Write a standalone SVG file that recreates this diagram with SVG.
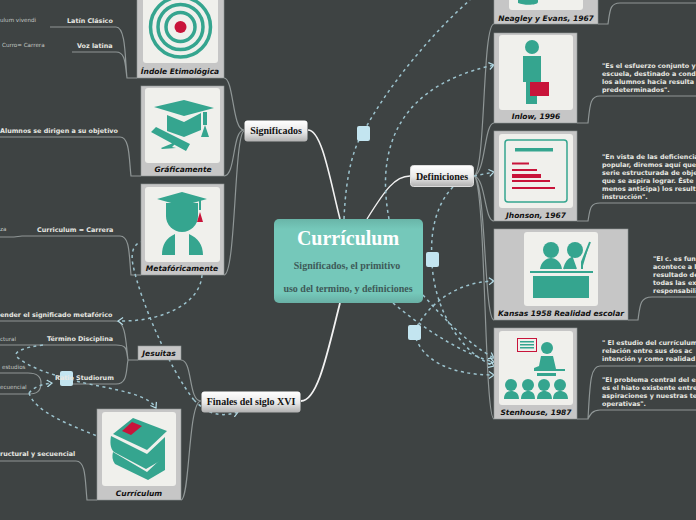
<svg xmlns="http://www.w3.org/2000/svg" width="696" height="520" viewBox="0 0 696 520">
<style>
.g{fill:none;stroke:#8f9696;stroke-width:1.2}
.w{fill:none;stroke:#f2f2f2}
.d{fill:none;stroke:#9cc3ce;stroke-width:1.5;stroke-dasharray:3 3.500;marker-end:url(#a)}
.n{fill:none;stroke:#9cc3ce;stroke-width:1.5;stroke-dasharray:3 3.500}
.t{font:bold 6.400px "DejaVu Sans",sans-serif;fill:#e8e8e2}
.s{font:5.600px "DejaVu Sans",sans-serif;fill:#c4c8c4}
.c{font:italic bold 7.500px "DejaVu Sans",sans-serif;fill:#111;text-anchor:middle}
.m{font:bold 10px "Liberation Serif",serif;fill:#111;text-anchor:middle}
.card{fill:#c6c6c6;stroke:#8f9696;stroke-width:.6}
.in{fill:#f0f0ec}
.e{fill:#35a58f}
.r{fill:#c8143a}
.b{fill:#c3e5f0}
</style>
<defs>
<marker id="a" markerWidth="8" markerHeight="8" refX="6" refY="4" orient="auto" markerUnits="userSpaceOnUse"><path d="M1 .5L6 4L1 7.500" fill="none" stroke="#b5dde8" stroke-width="1.200"/></marker>
<linearGradient id="bt" x1="0" y1="0" x2="0" y2="1"><stop offset="0" stop-color="#fff"/><stop offset=".55" stop-color="#e8e8e8"/><stop offset="1" stop-color="#b0b0b0"/></linearGradient>
<linearGradient id="ct" x1="0" y1="0" x2="0" y2="1"><stop offset="0" stop-color="#69b5a8"/><stop offset=".12" stop-color="#75c8ba"/><stop offset=".88" stop-color="#75c8ba"/><stop offset="1" stop-color="#69b0a5"/></linearGradient>
</defs>
<rect width="696" height="520" fill="#3e4343"/>
<g id="connectors">
<path class="w" stroke-width="1.600" d="M340 219C330 180 322 130 308 130"/>
<path class="w" stroke-width="1.400" d="M367 219C385 190 395 176 410 176"/>
<path class="w" stroke-width="1.800" d="M340 303C328 350 318 401 301 401"/>
<path class="g" d="M244 130C232 130 234 78 224 78M244 130C232 130 236 176 224 176M244 131C234 135 236 275 224 275"/>
<path class="g" d="M137 78H127C125 60 126 27 116 27H50M127 78C125 65 126 52 116 52H72M141 176H131C129 160 130 137 120 137H0M141 275H131C129 255 130 236 120 236H22L14 237H0"/>
<path class="g" d="M138 360H128C126 345 126 321 116 321H0M128 360C126 350 128 345 116 345H0M128 360C126 370 128 384 116 384H60M41 383C41 376 36 373 28 373H0M41 383C41 392 36 394 28 394H0"/>
<path class="g" d="M201 401C188 401 193 360 181 360M201 401C188 401 190 500 181 500M97 500H87C85 480 86 461 76 461H0"/>
<path class="g" d="M474 176C486 170 482 24 494 24M474 176C486 172 484 123 494 123M474 176C486 178 484 221 494 221M474 176C486 180 484 320 494 320M474 176C486 182 484 419 494 419"/>
<path class="g" d="M598 24H608C610 10 610 3 620 3H696M577 123H588C590 105 590 96 600 96H696M577 221H588C590 209 590 203 600 203H696M628 320H638C640 305 640 297 652 297H696M577 419H588C590 385 590 366 600 366H696M588 419C590 415 592 410 600 410H696"/>
<path class="n" d="M344 219C346 170 355 145 363 133C385 90 430 35 470 0"/>
<path class="d" d="M389 219C380 170 380 90 494 65"/>
<path class="d" d="M474 176L494 172"/>
<path class="n" d="M453 187C435 205 430 235 432 259"/>
<path class="d" d="M432 259C432 300 455 350 494 366"/>
<path class="d" d="M414 332C430 300 460 282 494 281"/>
<path class="d" d="M414 332C420 360 450 375 494 375"/>
<path class="d" d="M423 295C445 320 470 345 494 358"/>
<path class="d" d="M393 303C425 330 465 355 494 362"/>
<path class="d" d="M202 275C200 305 160 322 118 321"/>
<path class="d" d="M194 400C202 408 214 420 238 412"/>
<path class="n" d="M194 400C170 370 140 300 133 265C131 255 132 245 141 242"/>
<path class="d" d="M43 345C25 347 12 352 17 357C30 368 50 374 66 378C95 388 145 390 156 408"/>
<path class="d" d="M29 393C34 387 42 384 52 383"/>
<path class="n" d="M29 393C35 412 70 425 97 436"/>
</g>
<g id="markers"><rect class="b" x="357" y="126" width="13" height="15" rx="2"/><rect class="b" x="426" y="252" width="13" height="15" rx="2"/><rect class="b" x="408" y="325" width="13" height="15" rx="2"/><rect class="b" x="60" y="371" width="13" height="15" rx="2"/></g>
<g id="central">
<rect x="274" y="219" width="149" height="84" rx="5" fill="url(#ct)"/>
<text x="348" y="245" text-anchor="middle" font-family="Liberation Serif" font-weight="bold" font-size="20" fill="#fff">Currículum</text>
<text x="347" y="269" text-anchor="middle" font-family="Liberation Serif" font-weight="bold" font-size="10" fill="#3e5a58">Significados, el primitivo</text>
<text x="348" y="292" text-anchor="middle" font-family="Liberation Serif" font-weight="bold" font-size="10" fill="#3e5a58">uso del termino, y definiciones</text>
</g>
<g id="significados"><rect x="244.500" y="120.500" width="63" height="21" rx="3" fill="url(#bt)"/><text class="m" x="276" y="134">Significados</text></g>
<g id="definiciones"><rect x="410.500" y="165.500" width="63" height="21" rx="3" fill="url(#bt)" stroke="#ddd"/><text class="m" x="442" y="180">Definiciones</text></g>
<g id="finales"><rect x="201.500" y="391.500" width="99" height="21" rx="3" fill="url(#bt)"/><text class="m" x="251" y="405">Finales del siglo XVI</text></g>
<g id="etimologica"><rect class="card" x="137" y="-20" width="87" height="98"/><rect class="in" x="143" y="-15" width="75" height="78" rx="3"/>
<g fill="none" stroke="#35a58f" stroke-width="3.500"><circle cx="180.500" cy="27" r="30"/><circle cx="180.500" cy="27" r="22.500"/><circle cx="180.500" cy="27" r="14.500"/></g><circle class="r" cx="180.500" cy="27" r="6"/>
<text class="c" x="180" y="74">Índole Etimológica</text></g>
<g id="graficamente"><rect class="card" x="141" y="86" width="83" height="90"/><rect class="in" x="145" y="88" width="75" height="75" rx="3"/>
<path class="e" d="M154 107L184 100L214 108L184 116Z"/><path class="e" d="M167 115L184 122L201 113V130L184 137L167 131Z"/><rect class="e" x="203" y="112" width="4" height="13"/><path class="e" d="M205 125L209 137H201Z"/>
<path class="e" d="M151 132L156 127L190 144L186 151ZM161 148L178 141L172 147L176 148L162 149Z"/>
<text class="c" x="183" y="172">Gráficamente</text></g>
<g id="metaforicamente"><rect class="card" x="141" y="184" width="83" height="91"/><rect class="in" x="145" y="187" width="75" height="75" rx="3"/>
<path class="e" d="M157 199L182 192L207 199L182 206Z"/><path class="e" d="M166 203L198 203V216A16 16 0 0 1 166 216Z"/><rect class="e" x="199" y="199" width="2" height="11"/><path class="r" d="M200 212L203 222H197Z"/><path class="e" d="M162 255C162 245 166 238 175 234V255ZM189 234C198 238 203 245 203 255H189Z"/>
<text class="c" x="182" y="271">Metafóricamente</text></g>
<g id="jesuitas"><rect class="card" x="138" y="346" width="43" height="14"/><text class="c" x="159" y="356">Jesuitas</text></g>
<g id="curriculum"><rect class="card" x="97" y="409" width="84" height="91"/><rect class="in" x="102" y="412" width="74" height="74" rx="3"/>
<path class="e" d="M113 434L133 418L167 431L147 450Z"/><path class="e" d="M111 436L147 454L165 437V458L146 469L114 452C110 448 110 442 111 436Z"/><path class="e" d="M113 452L147 472L165 455V470L148 480L115 464C112 460 112 456 113 452Z"/><path class="r" d="M122 431L132 422L142 426L131 435Z"/>
<text class="c" x="139" y="496">Currículum</text></g>
<g id="neagley"><rect class="card" x="494" y="-20" width="104" height="44"/><rect class="in" x="509" y="-20" width="74" height="30" rx="3"/><path class="e" d="M518 -5H538V2C538 5 525 6 518 3Z"/><text class="c" x="546" y="21">Neagley y Evans, 1967</text></g>
<g id="inlow"><rect class="card" x="494" y="33" width="83" height="90"/><rect class="in" x="499" y="35" width="74" height="75" rx="3"/>
<circle class="e" cx="532" cy="47" r="7"/><path class="e" d="M523 56H541V82H537V104H526V82H523Z"/><rect class="r" x="530" y="82" width="19" height="14"/>
<text class="c" x="536" y="119">Inlow, 1996</text></g>
<g id="jhonson"><rect class="card" x="494" y="131" width="83" height="90"/><rect class="in" x="499" y="134" width="74" height="74" rx="3"/>
<rect x="505" y="140" width="62" height="62" rx="3" fill="none" stroke="#35a58f" stroke-width="1.500"/><rect class="e" x="515" y="148" width="38" height="3.500"/>
<g class="r"><rect x="512" y="162.500" width="17" height="2"/><rect x="512" y="169" width="25" height="2"/><rect x="512" y="174" width="29" height="4"/><rect x="512" y="180" width="38" height="2"/><rect x="512" y="187" width="43" height="2"/></g>
<text class="c" x="536" y="218">Jhonson, 1967</text></g>
<g id="kansas"><rect class="card" x="494" y="229" width="134" height="91"/><rect class="in" x="524" y="232" width="74" height="74" rx="3"/>
<circle class="e" cx="551" cy="250" r="8"/><path class="e" d="M540 269C541 262 546 258 551 258C556 258 561 262 562 269Z"/><circle class="e" cx="575" cy="250" r="8"/><path class="e" d="M564 269C566 262 568 260 572 258L576 269M582 269V262L590 242" stroke="#35a58f" stroke-width="2"/>
<rect class="e" x="530" y="271" width="63" height="2"/><rect class="e" x="533" y="276" width="56" height="22"/>
<text class="c" x="561" y="316">Kansas 1958 Realidad escolar</text></g>
<g id="stenhouse"><rect class="card" x="494" y="328" width="83" height="91"/><rect class="in" x="499" y="331" width="74" height="74" rx="3"/>
<rect x="517.500" y="338.500" width="19" height="13" fill="#f0f0ec" stroke="#c8143a"/><g class="e"><rect x="520" y="341" width="14" height="1.500"/><rect x="520" y="344" width="14" height="1.500"/><rect x="520" y="347" width="14" height="1.500"/></g>
<circle class="e" cx="547" cy="348" r="6"/><path class="e" d="M539 366L541 356H553L556 369H565V371H534V368Z"/><rect class="e" x="537" y="373" width="19" height="3"/>
<g class="e"><circle cx="511" cy="385" r="6"/><circle cx="528" cy="385" r="6"/><circle cx="544" cy="385" r="6"/><circle cx="560" cy="385" r="6"/><path d="M504 399C504 393 508 391 511 391C515 391 519 393 519 399ZM521 399C521 393 525 391 528 391C532 391 535 393 535 399ZM537 399C537 393 541 391 544 391C548 391 552 393 552 399ZM553 399C553 393 557 391 560 391C564 391 568 393 568 399Z"/></g>
<text class="c" x="536" y="415">Stenhouse, 1987</text></g>
<g id="labels-left">
<text class="s" x="0" y="22">ulum  vivendi</text><text class="t" x="67" y="23">Latín Clásico</text>
<text class="s" x="2" y="47">Curro= Carrera</text><text class="t" x="77" y="48">Voz latina</text>
<text class="t" x="0" y="133">Alumnos se dirigen a su objetivo</text>
<text class="s" x="0" y="231">za</text><text class="t" x="37" y="232">Curriculum =  Carrera</text>
<text class="t" x="0" y="317">ender el significado metafórico</text>
<text class="s" x="0" y="341">ctural</text><text class="t" x="47" y="341">Término Disciplina</text>
<text class="s" x="2" y="369">estudios</text><text class="t" x="55" y="380">Ratio Studiorum</text>
<text class="s" x="0" y="389">ecuencial</text>
<text class="t" x="0" y="456">ructural y secuencial</text>
</g>
<g id="labels-right">
<text class="t" x="602" y="68">"Es el esfuerzo conjunto y</text><text class="t" x="602" y="76">escuela, destinado a cond</text><text class="t" x="602" y="84">los alumnos hacia resulta</text><text class="t" x="602" y="92">predeterminados".</text>
<text class="t" x="602" y="159">"En vista de las deficiencia</text><text class="t" x="602" y="167">popular, diremos aquí que</text><text class="t" x="602" y="175">serie estructurada de obje</text><text class="t" x="602" y="183">que se aspira lograr. Éste</text><text class="t" x="602" y="191">menos anticipa) los result</text><text class="t" x="602" y="199">instrucción".</text>
<text class="t" x="653" y="261">"El c. es fun</text><text class="t" x="653" y="269">acontece a l</text><text class="t" x="653" y="277">resultado de</text><text class="t" x="653" y="285">todas las ex</text><text class="t" x="653" y="293">responsabili</text>
<text class="t" x="602" y="345">" El estudio del currículum</text><text class="t" x="602" y="353">relación entre sus  dos ac</text><text class="t" x="602" y="361">intención y como realidad</text>
<text class="t" x="602" y="382">"El problema central del e</text><text class="t" x="602" y="390">es el hiato existente entre</text><text class="t" x="602" y="398">aspiraciones y nuestras te</text><text class="t" x="602" y="406">operativas".</text>
</g>
</svg>
